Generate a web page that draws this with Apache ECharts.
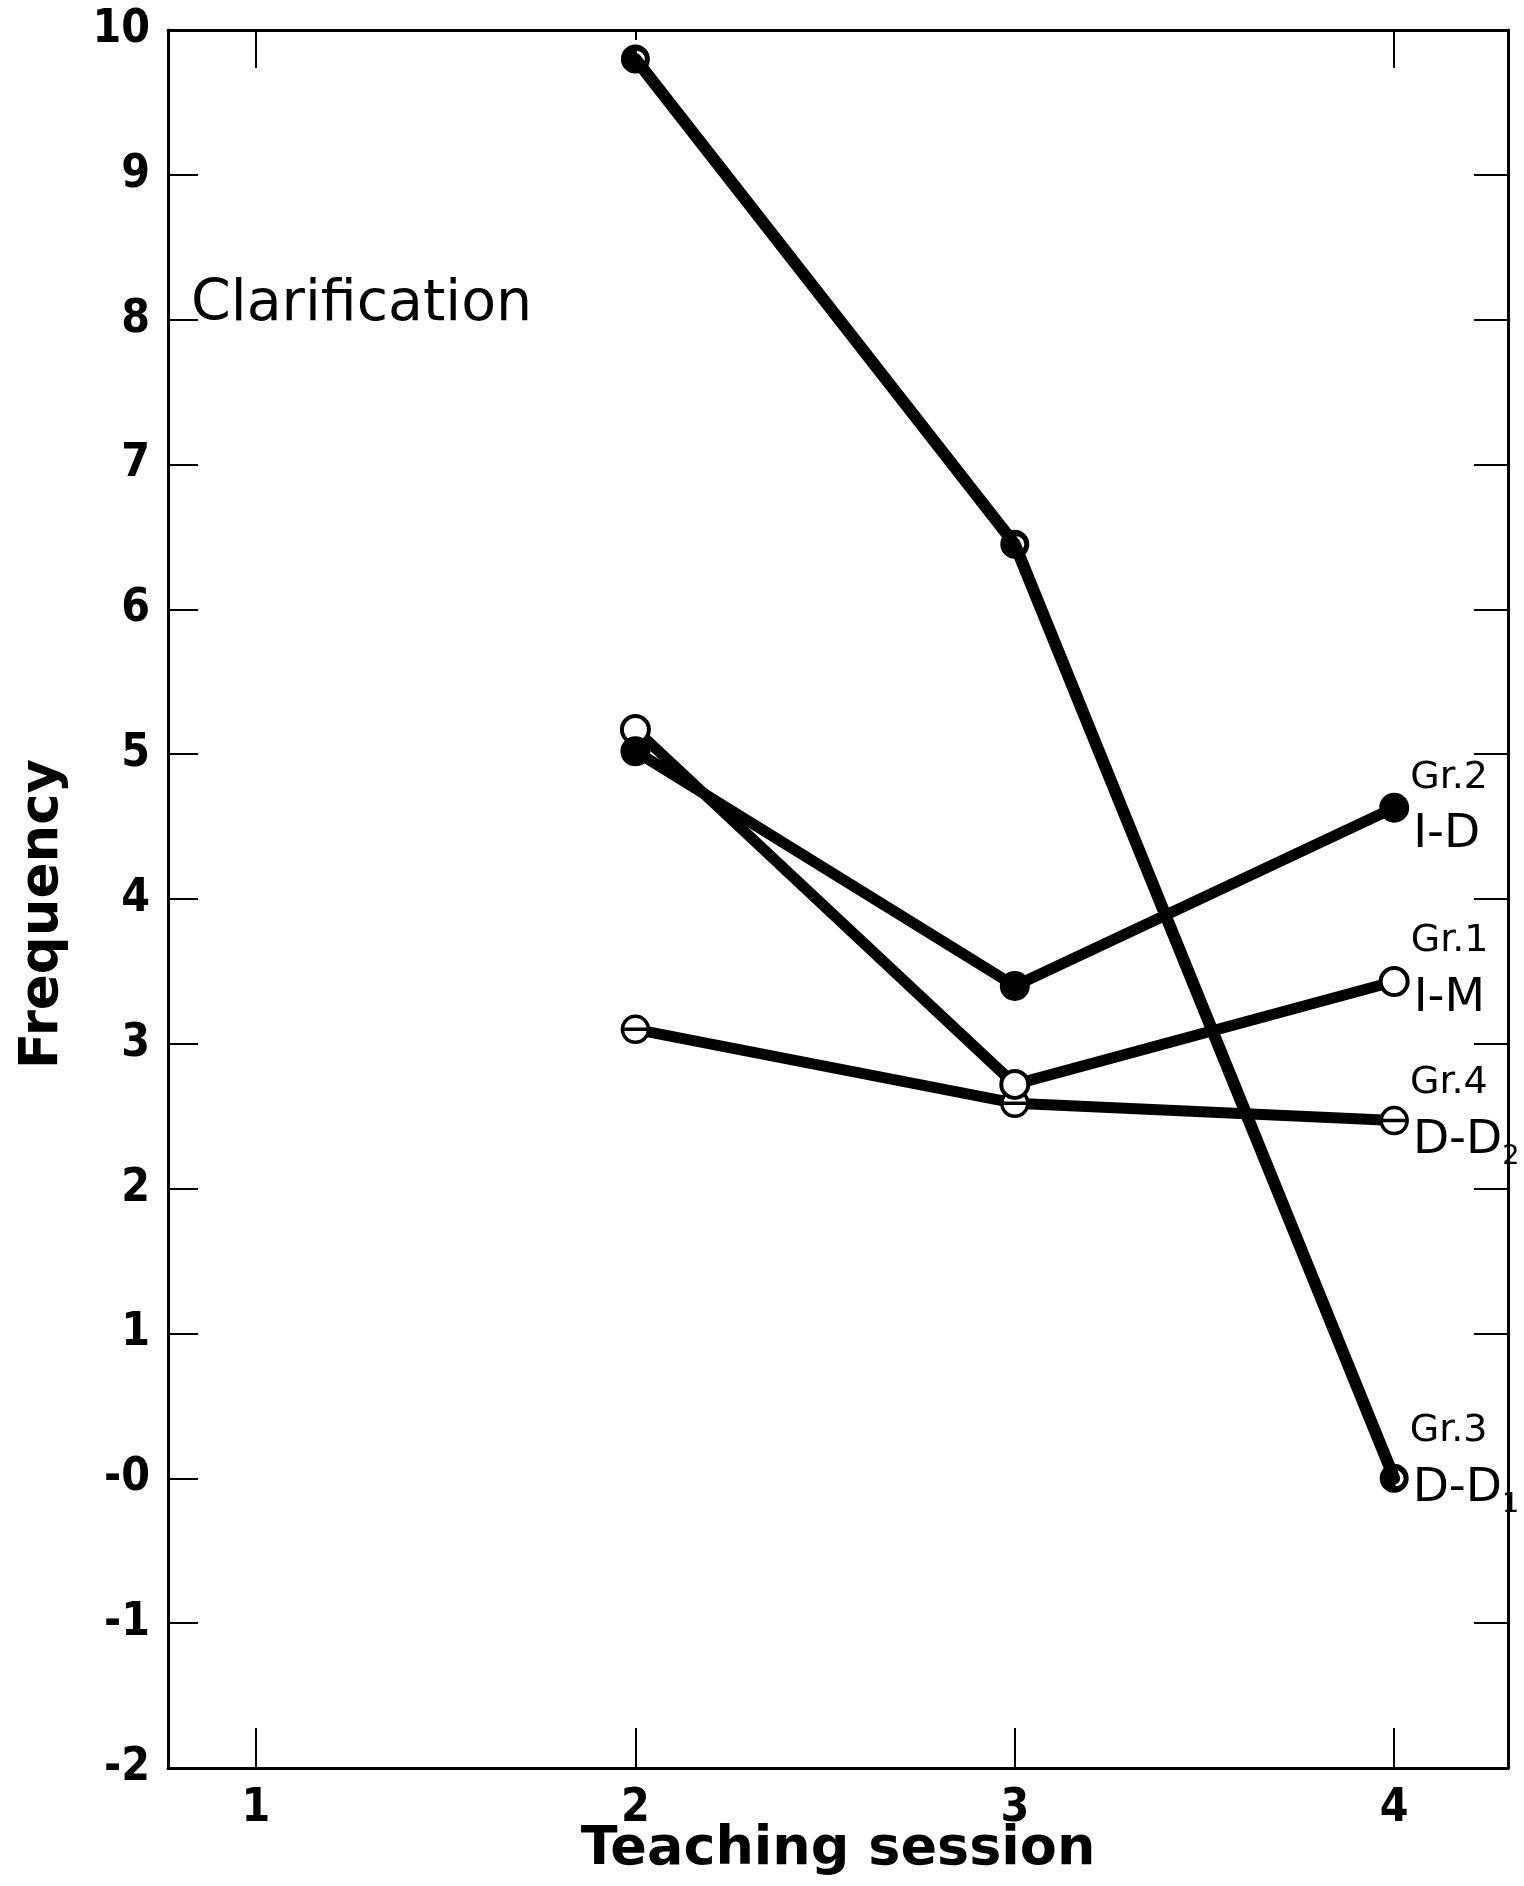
<!DOCTYPE html>
<html>
<head>
<meta charset="utf-8">
<script src="https://cdn.jsdelivr.net/npm/echarts@6/dist/echarts.min.js"></script>
<style>
  html, body { margin: 0; padding: 0; background: #ffffff; overflow: hidden; }
  #chart { width: 1524px; height: 1886px; }
</style>
</head>
<body>
<div id="chart"></div>
<script>
// ---- data ----
const sessions = [2, 3, 4];
const xTickValues = [1, 2, 3, 4];
const xTickLabels = ['1', '2', '3', '4'];
const yTickLabels = ['-2', '-1', '-0', '1', '2', '3', '4', '5', '6', '7', '8', '9', '10'];
const gr1_IM  = [5.17, 2.72, 3.43];
const gr2_ID  = [5.02, 3.40, 4.63];
const gr3_DD1 = [9.80, 6.45, 0.00];
const gr4_DD2 = [3.10, 2.59, 2.47];
const chartTitle = 'Clarification';
const xName = 'Teaching session';
const yName = 'Frequency';

// ---- styling ----
const BLACK = '#000000';
const numFont = "'Liberation Sans Narrow', 'DejaVu Sans Condensed', sans-serif";
const textFont = "'DejaVu Sans', sans-serif";
const Y_MIN = -2, Y_MAX = 10;
const X_MIN = 0.768, X_MAX = 4.30;

const rich = {
  g: { fontFamily: textFont, fontSize: 38, lineHeight: 54, color: BLACK },
  m: { fontFamily: textFont, fontSize: 47, lineHeight: 60, color: BLACK, padding: [0, 0, 0, 3] },
  s: { fontFamily: textFont, fontSize: 27, lineHeight: 30, color: BLACK, verticalAlign: 'bottom' }
};

// symbol paths
const halfHoleDisc = 'path://M0,-10 A10,10 0 1,1 0,10 A10,10 0 1,1 0,-10 Z M1,-5.5 L1,5.5 A5.5,5.5 0 0,0 1,-5.5 Z';
const barCircle = 'path://M-10,0 A10,10 0 1,1 10,0 A10,10 0 1,1 -10,0 Z M-10,0 L10,0';

function buildData(values, labelText, dy) {
  return sessions.map(function (s, i) {
    if (i === sessions.length - 1) {
      return {
        value: [s, values[i]],
        label: {
          show: true,
          position: 'right',
          distance: 1,
          offset: [0, dy],
          align: 'left',
          formatter: labelText,
          rich: rich
        }
      };
    }
    return [s, values[i]];
  });
}

function lineSeries(name, values, symbol, size, itemStyle, labelText, dy, width) {
  return {
    name: name,
    type: 'line',
    xAxisIndex: 0,
    yAxisIndex: 0,
    data: buildData(values, labelText, dy),
    symbol: symbol,
    symbolSize: size,
    showSymbol: true,
    showAllSymbol: true,
    lineStyle: { color: BLACK, width: width, cap: 'round', join: 'round' },
    itemStyle: itemStyle,
    label: { show: false },
    emphasis: { disabled: true },
    z: 3
  };
}

const chart = echarts.init(document.getElementById('chart'), null, { renderer: 'canvas' });

const option = {
  backgroundColor: '#ffffff',
  animation: false,
  title: {
    text: chartTitle,
    left: 186,
    top: 272,
    textStyle: { fontFamily: textFont, fontSize: 57, fontWeight: 'normal', color: BLACK }
  },
  grid: {
    left: 168, right: 1524 - 1508, top: 30, bottom: 1886 - 1768,
    containLabel: false, outerBoundsMode: 'none'
  },
  xAxis: [
    {
      type: 'value', position: 'bottom', min: X_MIN, max: X_MAX,
      axisLine: { show: true, onZero: false, lineStyle: { color: BLACK, width: 3 } },
      axisTick: { show: true, inside: true, length: 40, customValues: xTickValues, lineStyle: { color: BLACK, width: 2 } },
      axisLabel: {
        show: true, customValues: xTickValues, margin: 18,
        fontFamily: numFont, fontWeight: 'bold', fontSize: 46, color: BLACK,
        formatter: function (v) { return xTickLabels[xTickValues.indexOf(Math.round(v))]; }
      },
      splitLine: { show: false },
      name: xName, nameLocation: 'middle', nameGap: 55, nameMoveOverlap: false,
      nameTextStyle: { fontFamily: textFont, fontWeight: 'bold', fontSize: 54, color: BLACK }
    },
    {
      type: 'value', position: 'top', min: X_MIN, max: X_MAX,
      axisLine: { show: true, onZero: false, lineStyle: { color: BLACK, width: 3 } },
      axisTick: { show: true, inside: true, length: 38, customValues: [1, 4], lineStyle: { color: BLACK, width: 2 } },
      axisLabel: { show: false },
      splitLine: { show: false }
    },
    {
      type: 'value', position: 'top', min: X_MIN, max: X_MAX,
      axisLine: { show: false, onZero: false },
      axisTick: { show: true, inside: true, length: 10, customValues: [2], lineStyle: { color: BLACK, width: 2 } },
      axisLabel: { show: false },
      splitLine: { show: false }
    }
  ],
  yAxis: [
    {
      type: 'value', position: 'left', min: Y_MIN, max: Y_MAX, interval: 1,
      axisLine: { show: true, onZero: false, lineStyle: { color: BLACK, width: 3 } },
      axisTick: { show: true, inside: true, length: 30, lineStyle: { color: BLACK, width: 2 } },
      axisLabel: {
        show: true, margin: 18,
        fontFamily: numFont, fontWeight: 'bold', fontSize: 46, color: BLACK,
        formatter: function (v) { return yTickLabels[Math.round(v - Y_MIN)]; }
      },
      splitLine: { show: false },
      name: yName, nameLocation: 'middle', nameGap: 98, nameRotate: 90,
      nameTextStyle: { fontFamily: textFont, fontWeight: 'bold', fontSize: 53, color: BLACK, padding: [0, 30, 0, 0] }
    },
    {
      type: 'value', position: 'right', min: Y_MIN, max: Y_MAX, interval: 1,
      axisLine: { show: true, onZero: false, lineStyle: { color: BLACK, width: 3 } },
      axisTick: { show: true, inside: true, length: 34, customValues: [-1, 1, 2, 3, 4, 5, 6, 7, 8, 9], lineStyle: { color: BLACK, width: 2 } },
      axisLabel: { show: false },
      splitLine: { show: false }
    }
  ],
  series: [
    lineSeries('Gr.4 D-D2', gr4_DD2, barCircle, 26,
      { color: '#ffffff', borderColor: BLACK, borderWidth: 3.5 },
      '{g|Gr.4}\n{m|D-D}{s|2}', -7, 11),
    lineSeries('Gr.1 I-M', gr1_IM, 'circle', 27,
      { color: '#ffffff', borderColor: BLACK, borderWidth: 4 },
      '{g|Gr.1}\n{m|I-M}', -10, 11),
    lineSeries('Gr.2 I-D', gr2_ID, 'circle', 30,
      { color: BLACK, borderColor: BLACK, borderWidth: 0 },
      '{g|Gr.2}\n{m|I-D}', 0, 11),
    lineSeries('Gr.3 D-D1', gr3_DD1, halfHoleDisc, 29,
      { color: BLACK, borderColor: BLACK, borderWidth: 0 },
      '{g|Gr.3}\n{m|D-D}{s|1}', -17, 12)
  ]
};

chart.setOption(option);
</script>
</body>
</html>
